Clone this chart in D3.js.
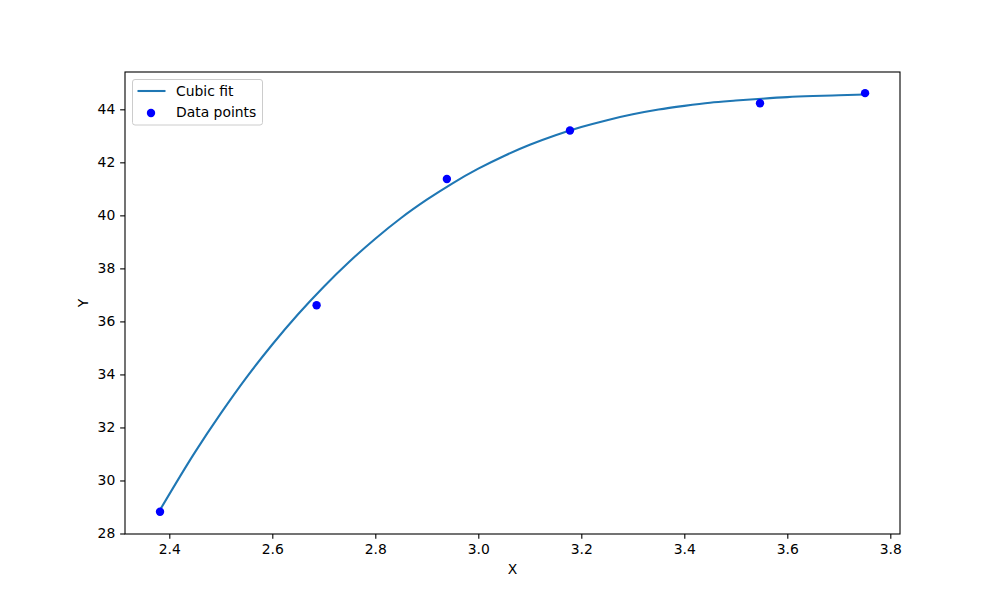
<!DOCTYPE html>
<html>
<head>
<meta charset="utf-8">
<script src="https://cdn.jsdelivr.net/npm/d3@7"></script>
<style>
  body { margin: 0; background: #fff; }
  text { font-family: "DejaVu Sans", sans-serif; }
</style>
</head>
<body>
<svg id="chart" width="1000" height="600"></svg>
<script>
// Data points (scatter)
const pointX = [2.382, 2.686, 2.939, 3.178, 3.547, 3.751];
const pointY = [28.82, 36.61, 41.37, 43.20, 44.23, 44.61];

// Cubic fit curve
const fitX = [2.382, 2.45, 2.50, 2.55, 2.60, 2.65, 2.70, 2.75, 2.80, 2.85, 2.90, 2.95, 3.00,
              3.05, 3.10, 3.15, 3.20, 3.25, 3.30, 3.35, 3.40, 3.45, 3.50, 3.55, 3.60, 3.65, 3.70, 3.751];
const fitY = [28.89, 31.07, 32.53, 33.89, 35.13, 36.27, 37.31, 38.26, 39.12, 39.90, 40.59, 41.21, 41.76,
              42.24, 42.66, 43.02, 43.33, 43.59, 43.81, 43.99, 44.13, 44.25, 44.33, 44.40, 44.46, 44.50, 44.53, 44.56];

// Tick labels
const xTicks = [2.4, 2.6, 2.8, 3.0, 3.2, 3.4, 3.6, 3.8];
const yTicks = [28, 30, 32, 34, 36, 38, 40, 42, 44];

const seriesNames = ["Cubic fit", "Data points"];

const svg = d3.select("#chart");
const L = 125, R = 900, T = 72, B = 534;

const x = d3.scaleLinear().domain([2.31398, 3.81883]).range([L, R]);
const y = d3.scaleLinear().domain([27.981, 45.4075]).range([B, T]);

// Fit line
const line = d3.line()
  .x(d => x(d[0]))
  .y(d => y(d[1]))
  .curve(d3.curveMonotoneX);

const fitData = fitX.map((v, i) => [v, fitY[i]]);
svg.append("path")
  .datum(fitData)
  .attr("fill", "none")
  .attr("stroke", "#1f77b4")
  .attr("stroke-width", 2.08)
  .attr("d", line);

// Scatter points
svg.append("g").selectAll("circle")
  .data(pointX.map((v, i) => [v, pointY[i]]))
  .join("circle")
  .attr("cx", d => x(d[0]))
  .attr("cy", d => y(d[1]))
  .attr("r", 4.2)
  .attr("fill", "#0000ff");

// Axes
const xAxis = d3.axisBottom(x).tickValues(xTicks).tickFormat(d3.format(".1f"))
  .tickSizeInner(4.86).tickSizeOuter(0).tickPadding(4.86);
const yAxis = d3.axisLeft(y).tickValues(yTicks).tickFormat(d3.format("d"))
  .tickSizeInner(4.86).tickSizeOuter(0).tickPadding(4.86);

const gx = svg.append("g").attr("transform", `translate(0,${B})`).call(xAxis);
const gy = svg.append("g").attr("transform", `translate(${L},0)`).call(yAxis);
[gx, gy].forEach(g => {
  g.select(".domain").remove();
  g.selectAll(".tick line").attr("stroke", "#000").attr("stroke-width", 1.1);
  g.selectAll(".tick text").attr("fill", "#000").style("font-size", "13.9px")
    .style("font-family", "DejaVu Sans");
});

// Frame
svg.append("rect")
  .attr("x", L).attr("y", T)
  .attr("width", R - L).attr("height", B - T)
  .attr("fill", "none").attr("stroke", "#000").attr("stroke-width", 1.1);

// Axis labels
svg.append("text").attr("x", (L + R) / 2).attr("y", 574)
  .attr("text-anchor", "middle").style("font-size", "13.9px").text("X");
svg.append("text")
  .attr("transform", `translate(88,${(T + B) / 2}) rotate(-90)`)
  .attr("text-anchor", "middle").style("font-size", "13.9px").text("Y");

// Legend
const lg = svg.append("g");
lg.append("rect")
  .attr("x", 132.5).attr("y", 79.5).attr("width", 130).attr("height", 45.5)
  .attr("rx", 2.5).attr("fill", "#fff").attr("fill-opacity", 0.8)
  .attr("stroke", "#cccccc").attr("stroke-width", 1);
lg.append("line")
  .attr("x1", 137.5).attr("x2", 165.5).attr("y1", 91).attr("y2", 91)
  .attr("stroke", "#1f77b4").attr("stroke-width", 2.08);
lg.append("circle").attr("cx", 151).attr("cy", 113).attr("r", 4.2).attr("fill", "#0000ff");
lg.append("text").attr("x", 176).attr("y", 96).style("font-size", "13.9px").text(seriesNames[0]);
lg.append("text").attr("x", 176).attr("y", 117).style("font-size", "13.9px").text(seriesNames[1]);
</script>
</body>
</html>
